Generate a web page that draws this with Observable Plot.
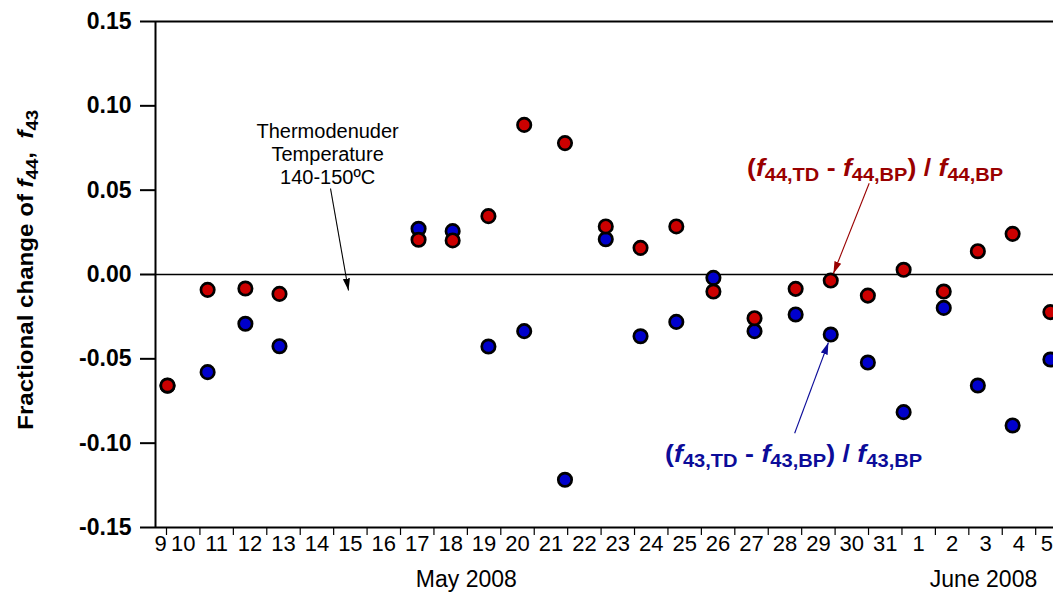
<!DOCTYPE html>
<html>
<head>
<meta charset="utf-8">
<script src="https://cdn.jsdelivr.net/npm/d3@7"></script>
<script src="https://cdn.jsdelivr.net/npm/@observablehq/plot@0.6"></script>
<style>
  html, body { margin: 0; padding: 0; background: #fff; }
  svg text { white-space: pre; }
</style>
</head>
<body>
<div id="chart"></div>
<script>
// ---- Data (day of May 2008; June 1 = 32) ----
const sampleDays = [10.03, 11.23, 12.36, 13.38, 17.54, 18.56, 19.63, 20.70, 21.92, 23.14, 24.18, 25.25, 26.36, 27.59, 28.82, 29.87, 30.98, 32.05, 33.25, 34.27, 35.31, 36.44];
const f44Change = [-0.0658, -0.0091, -0.0083, -0.0115, 0.0206, 0.0202, 0.0346, 0.0887, 0.0779, 0.0285, 0.0158, 0.0285, -0.0101, -0.0259, -0.0085, -0.0036, -0.0125, 0.0028, -0.0101, 0.0138, 0.0241, -0.0223];
const f43Change = [-0.0660, -0.0579, -0.0292, -0.0425, 0.0271, 0.0257, -0.0427, -0.0336, -0.1217, 0.0209, -0.0366, -0.0281, -0.0020, -0.0336, -0.0237, -0.0356, -0.0522, -0.0816, -0.0198, -0.0658, -0.0895, -0.0504];
const dayStarts = d3.range(9, 37);              // May 9 ... June 5 (as 32..36)
const dayLabels = ["9","10","11","12","13","14","15","16","17","18","19","20","21","22","23","24","25","26","27","28","29","30","31","1","2","3","4","5"];
const yTicks = [-0.15, -0.10, -0.05, 0.00, 0.05, 0.10, 0.15];
const monthLabels = ["May 2008", "June 2008"];

// ---- Layout / styles ----
const FONT = "'Liberation Sans', Arial, Helvetica, sans-serif";
const xDomain = [9.671, 36.533];
const yDomain = [-0.15, 0.15];
const RED = "#cc0000", BLUE = "#0000cc";
const RED_TXT = "#990000", BLUE_TXT = "#0c0c99";

const rows43 = sampleDays.map((d, i) => ({day: d, v: f43Change[i]}));
const rows44 = sampleDays.map((d, i) => ({day: d, v: f44Change[i]}));

const monthAnchors = [18.97, 34.44];
const arrows = [
  {x1: 14.906, y1: 0.0510, x2: 15.444, y2: -0.0095, c: "#000000"},
  {x1: 31.02, y1: 0.0541, x2: 29.95, y2: 0.0006, c: RED_TXT},
  {x1: 28.79, y1: -0.0941, x2: 29.80, y2: -0.0403, c: BLUE_TXT}
];

function filledArrow(color) {
  const m = d3.create("svg:marker")
    .attr("viewBox", "-12 -5 13 10")
    .attr("markerWidth", 13)
    .attr("markerHeight", 10)
    .attr("markerUnits", "userSpaceOnUse")
    .attr("refX", 0).attr("refY", 0)
    .attr("orient", "auto");
  m.append("path").attr("d", "M0,0L-12,-3.6L-12,3.6Z").attr("fill", color).attr("stroke", "none");
  return m.node();
}

const chart = Plot.plot({
  width: 1053,
  height: 593,
  marginLeft: 155,
  marginRight: 0,
  marginTop: 21,
  marginBottom: 66,
  style: {fontFamily: FONT, background: "#fff", color: "#000"},
  x: {type: "linear", domain: xDomain},
  y: {domain: yDomain},
  marks: [
    Plot.ruleY([0], {stroke: "#000", strokeWidth: 1.5}),
    Plot.ruleY([yDomain[1]], {stroke: "#000", strokeWidth: 2}),
    Plot.ruleY([yDomain[0]], {stroke: "#000", strokeWidth: 2}),
    Plot.ruleX([xDomain[0]], {stroke: "#000", strokeWidth: 2}),
    Plot.axisY(yTicks, {
      tickSize: 15, tickPadding: 9, tickFormat: d => d.toFixed(2),
      fontSize: 23, fontWeight: "bold", stroke: "#000", strokeWidth: 2, label: null
    }),
    Plot.axisX(d3.range(10, 37), {tickSize: 8, tickFormat: () => "", strokeWidth: 1.2, label: null}),
    Plot.text(dayLabels, {
      x: (d, i) => Math.min(Math.max(dayStarts[i] + 0.5, xDomain[0] + 0.15), xDomain[1] - 0.2),
      y: () => yDomain[0], dy: 16, text: d => d, fontSize: 22, fill: "#000"
    }),
    Plot.text(monthLabels, {
      x: (d, i) => monthAnchors[i], y: () => yDomain[0], dy: 52, text: d => d, fontSize: 23, fill: "#000"
    }),
    Plot.dot(rows43, {x: "day", y: "v", r: 6.7, fill: BLUE, stroke: "#000", strokeWidth: 2.7}),
    Plot.dot(rows44, {x: "day", y: "v", r: 6.7, fill: RED, stroke: "#000", strokeWidth: 2.7}),
    Plot.link(arrows, {x1: "x1", y1: "y1", x2: "x2", y2: "y2", stroke: "c", strokeWidth: 1.1, markerEnd: filledArrow}),
    Plot.text(["Thermodenuder\nTemperature\n140-150ºC"], {
      x: () => 14.82, y: () => 0.0717, text: d => d, fontSize: 20, lineHeight: 1.15, fill: "#000"
    })
  ]
});

document.getElementById("chart").appendChild(chart);

// ---- Rich text labels with subscripts ----
const sx = chart.scale("x"), sy = chart.scale("y");
function richText({x, y, anchor = "start", fill = "#000", size, subSize, shift, rotate, length}, parts) {
  const t = d3.select(chart).append("text")
    .attr("transform", `translate(${x},${y})` + (rotate ? ` rotate(${rotate})` : ""))
    .attr("text-anchor", anchor)
    .attr("fill", fill)
    .attr("font-family", FONT)
    .attr("font-weight", "bold")
    .attr("font-size", size);
  let down = false;
  for (const p of parts) {
    const s = t.append("tspan").text(p.t);
    if (p.i) s.attr("font-style", "italic");
    if (p.sub) {
      s.attr("font-size", subSize);
      if (!down) { s.attr("dy", shift); down = true; }
    } else if (down) {
      s.attr("dy", -shift); down = false;
    }
  }
  if (length) t.attr("textLength", length).attr("lengthAdjust", "spacingAndGlyphs");
  return t;
}

function ratioParts(n) {
  return [
    {t: "("}, {t: "f", i: true}, {t: n + ",TD", sub: true}, {t: " - "},
    {t: "f", i: true}, {t: n + ",BP", sub: true}, {t: ")"}, {t: " / "},
    {t: "f", i: true}, {t: n + ",BP", sub: true}
  ];
}

richText({x: sx.apply(27.38), y: sy.apply(0.0581), fill: RED_TXT, size: 24, subSize: 18, shift: 5, length: 256}, ratioParts("44"));
richText({x: sx.apply(24.93), y: sy.apply(-0.1115), fill: BLUE_TXT, size: 24, subSize: 18, shift: 5, length: 257}, ratioParts("43"));

richText({x: 33, y: sy.apply(0.0025), anchor: "middle", size: 22, subSize: 17, shift: 5, rotate: -90, length: 320}, [
  {t: "Fractional change of "}, {t: "f", i: true}, {t: "44", sub: true}, {t: ",  "},
  {t: "f", i: true}, {t: "43", sub: true}
]);
</script>
</body>
</html>
